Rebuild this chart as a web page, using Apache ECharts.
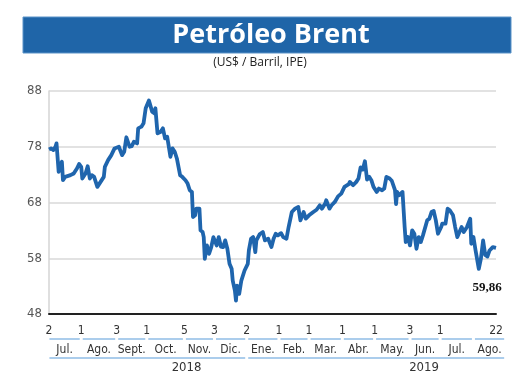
<!DOCTYPE html>
<html><head><meta charset="utf-8">
<script src="https://cdn.jsdelivr.net/npm/echarts@6/dist/echarts.min.js"></script>
<style>html,body{margin:0;padding:0;background:#fff}#c{width:520px;height:390px}</style>
</head><body><div id="c"></div>
<script>
const titleText = 'Petróleo Brent';
const subtitleText = '(US$ / Barril, IPE)';
const lastLabel = '59,86';

const dates = [
'2018-07-02','2018-07-04','2018-07-06','2018-07-08','2018-07-09','2018-07-10','2018-07-11','2018-07-12','2018-07-14','2018-07-15',
'2018-07-17','2018-07-18','2018-07-22','2018-07-25','2018-07-28','2018-07-30','2018-08-01','2018-08-02','2018-08-05','2018-08-07',
'2018-08-09','2018-08-11','2018-08-13','2018-08-16','2018-08-19','2018-08-22','2018-08-23','2018-08-26','2018-08-29','2018-09-01',
'2018-09-05','2018-09-08','2018-09-10','2018-09-12','2018-09-15','2018-09-17','2018-09-19','2018-09-22','2018-09-23','2018-09-26',
'2018-09-28','2018-09-30','2018-10-03','2018-10-06','2018-10-08','2018-10-09','2018-10-11','2018-10-14','2018-10-16','2018-10-18',
'2018-10-20','2018-10-23','2018-10-25','2018-10-27','2018-10-29','2018-11-01','2018-11-03','2018-11-06','2018-11-08','2018-11-10',
'2018-11-12','2018-11-13','2018-11-15','2018-11-16','2018-11-19','2018-11-20','2018-11-22','2018-11-23','2018-11-24','2018-11-26',
'2018-11-28','2018-11-30','2018-12-02','2018-12-03','2018-12-05','2018-12-07','2018-12-09','2018-12-11','2018-12-13','2018-12-15',
'2018-12-17','2018-12-19','2018-12-20','2018-12-22','2018-12-23','2018-12-24','2018-12-26','2018-12-28','2018-12-31','2019-01-03',
'2019-01-04','2019-01-06','2019-01-08','2019-01-10','2019-01-11','2019-01-14','2019-01-17','2019-01-19','2019-01-22','2019-01-25',
'2019-01-27','2019-01-29','2019-01-31','2019-02-03','2019-02-05','2019-02-08','2019-02-10','2019-02-13','2019-02-16','2019-02-19',
'2019-02-21','2019-02-24','2019-02-26','2019-03-01','2019-03-05','2019-03-08','2019-03-11','2019-03-13','2019-03-16','2019-03-17',
'2019-03-20','2019-03-22','2019-03-25','2019-03-28','2019-03-31','2019-04-03','2019-04-07','2019-04-08','2019-04-11','2019-04-14',
'2019-04-16','2019-04-18','2019-04-20','2019-04-22','2019-04-24','2019-04-26','2019-04-28','2019-04-30','2019-05-03','2019-05-05',
'2019-05-08','2019-05-10','2019-05-12','2019-05-15','2019-05-17','2019-05-18','2019-05-20','2019-05-21','2019-05-22','2019-05-24',
'2019-05-25','2019-05-27','2019-05-29','2019-05-30','2019-06-01','2019-06-03','2019-06-05','2019-06-07','2019-06-09','2019-06-11',
'2019-06-13','2019-06-15','2019-06-19','2019-06-21','2019-06-23','2019-06-25','2019-06-27','2019-06-29','2019-07-02','2019-07-03',
'2019-07-06','2019-07-08','2019-07-10','2019-07-13','2019-07-15','2019-07-17','2019-07-19','2019-07-21','2019-07-23','2019-07-26',
'2019-07-29','2019-07-30','2019-08-01','2019-08-03','2019-08-06','2019-08-08','2019-08-10','2019-08-12','2019-08-14','2019-08-16',
'2019-08-19','2019-08-22'
];
const values = [
77.5,77.7,77.4,78.0,78.6,78.9,73.5,74.4,75.3,72.0,
72.6,72.3,72.9,73.2,74.1,74.9,74.4,72.3,73.2,74.5,
72.3,72.9,72.6,70.8,71.7,72.6,74.4,75.6,76.5,77.7,
78.0,76.5,77.1,79.7,78.0,78.1,78.9,78.6,81.3,81.6,
82.2,84.9,86.3,84.3,84.0,84.9,80.4,80.7,81.3,79.5,
79.8,76.2,77.7,77.1,75.9,72.9,72.6,72.0,71.4,70.2,
69.9,65.4,65.7,66.9,66.9,63.0,62.7,61.8,57.9,60.3,
58.8,60.0,61.8,61.8,60.3,61.8,60.1,60.0,61.2,59.7,
57.0,56.1,54.0,52.2,50.4,53.1,51.6,54.0,55.8,57.0,
59.4,61.5,61.8,59.1,61.2,62.3,62.7,61.2,61.5,60.0,
61.5,62.4,62.1,62.5,61.8,61.5,63.6,66.3,66.9,67.2,
64.8,66.3,65.1,65.7,66.3,66.7,67.5,66.9,67.8,68.4,
66.9,67.5,68.1,69.1,69.6,70.8,71.3,71.7,71.1,71.7,
72.3,74.3,73.9,75.4,72.1,72.6,72.0,70.8,69.9,70.5,
70.2,70.5,72.6,72.3,71.9,72.0,70.2,67.7,69.9,69.3,
69.6,69.9,63.6,60.9,61.8,60.3,63.0,62.4,59.7,61.8,
60.9,62.1,64.8,65.1,66.3,66.5,64.8,62.4,63.6,64.2,
64.2,66.9,66.6,65.7,63.6,61.8,62.7,63.6,62.7,63.6,
65.1,60.6,61.8,59.4,56.1,58.0,61.2,58.6,58.3,59.4,
60.0,59.86
];

const yMin = 48, yMax = 88, yStep = 10;
const xStart = '2018-07-02', xEnd = '2019-08-22';

const dayTickDates = ['2018-07-02','2018-08-01','2018-09-03','2018-10-01','2018-11-05','2018-12-03','2019-01-02','2019-02-01','2019-03-01','2019-04-01','2019-05-01','2019-06-03','2019-07-01','2019-08-22'];
const dayTickLabels = ['2','1','3','1','5','3','2','1','1','1','1','3','1','22'];
const monthBounds = ['2018-07-01','2018-08-01','2018-09-03','2018-10-01','2018-11-05','2018-12-03','2019-01-02','2019-02-01','2019-03-01','2019-04-01','2019-05-01','2019-06-03','2019-07-01','2019-08-01','2019-08-31'];
const monthNames = ['Jul.','Ago.','Sept.','Oct.','Nov.','Dic.','Ene.','Feb.','Mar.','Abr.','May.','Jun.','Jul.','Ago.'];
const yearBounds = ['2018-07-01','2019-01-02','2019-08-31'];
const yearNames = ['2018','2019'];
const yearLabelDates = ['2018-11-07','2019-06-16'];

const ts = s => { const p = s.split('-').map(Number); return new Date(p[0], p[1]-1, p[2]).getTime(); };

const chart = echarts.init(document.getElementById('c'), null, {renderer:'canvas'});
const narrow = "'Liberation Sans Narrow','DejaVu Sans Condensed','Roboto Condensed',sans-serif";
const blueLine = '#8fbde6';

const option = {
  animation: false,
  backgroundColor: '#fff',
  graphic: [
    {type:'rect', shape:{x:23, y:17, width:488, height:36}, style:{fill:'#1f65a8', stroke:'#5b93c8', lineWidth:1}},
    {type:'text', x:271, y:35, style:{text:titleText, fill:'#fff', font:"bold 27px 'Open Sans','Noto Sans',sans-serif", textAlign:'center', textVerticalAlign:'middle'}},
    {type:'text', x:260, y:63, style:{text:subtitleText, fill:'#222', font:"12px 'Open Sans',sans-serif", textAlign:'center', textVerticalAlign:'middle'}}
  ],
  grid: [
    {left:49, right:24, top:91, bottom:76},
    {left:49, right:24, top:324, height:60}
  ],
  xAxis: [
    {type:'time', gridIndex:0, min:ts(xStart), max:ts(xEnd),
     axisLine:{show:true, onZero:false, lineStyle:{color:'#222', width:2}},
     axisTick:{show:false}, axisLabel:{show:false}, splitLine:{show:false}},
    {type:'time', gridIndex:1, min:ts(xStart), max:ts(xEnd), show:false}
  ],
  yAxis: [
    {type:'value', gridIndex:0, min:yMin, max:yMax, interval:yStep,
     axisLine:{show:true, lineStyle:{color:'#d4d4d4', width:1.5}},
     axisTick:{show:false},
     axisLabel:{color:'#555', fontSize:13, margin:7, fontFamily:"'DejaVu Sans Condensed','Liberation Sans Narrow',sans-serif"},
     splitLine:{lineStyle:{color:'#d9d9d9', width:1.5}}},
    {type:'value', gridIndex:1, min:0, max:60, inverse:true, show:false}
  ],
  series: [
    {type:'line', xAxisIndex:0, yAxisIndex:0, showSymbol:false, z:5,
     lineStyle:{color:'#1f65ad', width:3.8, join:'round'},
     data: dates.map((d,i)=>[ts(d), values[i]]),
     markPoint:{symbol:'circle', symbolSize:0,
       data:[{coord:[ts(dates[dates.length-1]), values[values.length-1]], value:lastLabel}],
       label:{show:true, formatter:lastLabel, offset:[-9,40], color:'#111', fontSize:13, fontWeight:'bold', fontFamily:"'Liberation Serif','DejaVu Serif',serif"}}},
    {type:'custom', xAxisIndex:1, yAxisIndex:1, clip:false,
     data: dayTickDates.map((d,i)=>[ts(d), i]),
     renderItem:(params, api)=>{
       const p = api.coord([api.value(0), 7]);
       return {type:'text', x:p[0], y:p[1], style:{text:dayTickLabels[params.dataIndex], fill:'#333', font:"12px "+narrow, textAlign:'center', textVerticalAlign:'middle'}};
     }},
    {type:'custom', xAxisIndex:1, yAxisIndex:1, clip:false,
     data: monthNames.map((n,i)=>[ts(monthBounds[i]), ts(monthBounds[i+1]), i]),
     renderItem:(params, api)=>{
       const a = api.coord([api.value(0), 15]);
       const b = api.coord([api.value(1), 15]);
       const c = api.coord([(api.value(0)+api.value(1))/2, 26]);
       return {type:'group', children:[
         {type:'line', shape:{x1:a[0]+1.5, y1:a[1], x2:b[0]-1.5, y2:b[1]}, style:{stroke:blueLine, lineWidth:1.5}},
         {type:'text', x:c[0], y:c[1], style:{text:monthNames[params.dataIndex], fill:'#333', font:"12px "+narrow, textAlign:'center', textVerticalAlign:'middle'}}
       ]};
     }},
    {type:'custom', xAxisIndex:1, yAxisIndex:1, clip:false,
     data: yearNames.map((n,i)=>[ts(yearBounds[i]), ts(yearBounds[i+1]), ts(yearLabelDates[i])]),
     renderItem:(params, api)=>{
       const a = api.coord([api.value(0), 34]);
       const b = api.coord([api.value(1), 34]);
       const c = api.coord([api.value(2), 44]);
       return {type:'group', children:[
         {type:'line', shape:{x1:a[0]+1.5, y1:a[1], x2:b[0]-1.5, y2:b[1]}, style:{stroke:blueLine, lineWidth:1.5}},
         {type:'text', x:c[0], y:c[1], style:{text:yearNames[params.dataIndex], fill:'#333', font:"13px "+narrow, textAlign:'center', textVerticalAlign:'middle'}}
       ]};
     }}
  ]
};
chart.setOption(option);
</script>
</body></html>
